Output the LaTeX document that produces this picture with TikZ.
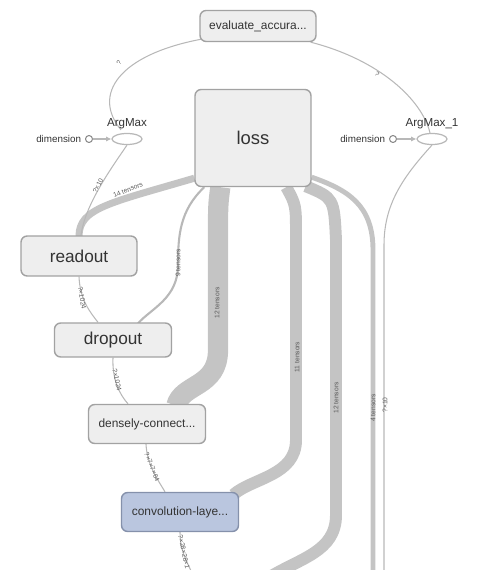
\documentclass[tikz,border=0pt]{standalone}
\usepackage{fontspec}
\setmainfont{Liberation Sans}
\usetikzlibrary{calc,arrows.meta,shapes.geometric,positioning}
\definecolor{boxfill}{HTML}{EEEEEE}
\definecolor{boxline}{HTML}{A2A2A2}
\definecolor{convfill}{HTML}{BAC6DF}
\definecolor{convline}{HTML}{8591AB}
\definecolor{flow}{HTML}{C4C4C4}
\definecolor{wire}{HTML}{B8B8B8}
\definecolor{ink}{HTML}{333333}
\definecolor{faint}{HTML}{5A5A5A}
\pgfdeclarelayer{background}
\pgfsetlayers{background,main}
\tikzset{
  opbox/.style={draw=boxline, fill=boxfill, rounded corners=3.5pt, line width=0.8pt, text=ink, inner sep=0pt},
  convbox/.style={opbox, draw=convline, fill=convfill},
  big/.style={font=\fontsize{9.8}{11}\selectfont},
  small/.style={font=\fontsize{6.8}{8}\selectfont},
  opnode/.style={ellipse, draw=wire, fill=white, line width=0.7pt, minimum width=0.6cm, minimum height=0.22cm, inner sep=0pt},
  cst/.style={circle, draw=faint!70, fill=white, line width=0.6pt, minimum size=0.14cm, inner sep=0pt},
  oplab/.style={text=ink, font=\fontsize{6.6}{7}\selectfont, inner sep=0pt},
  cstlab/.style={text=ink, font=\fontsize{5.6}{6}\selectfont, inner sep=0pt},
  wireline/.style={draw=wire, line width=0.6pt},
  band/.style={draw=flow, line cap=butt},
  elab/.style={text=faint, font=\fontsize{3.8}{4}\selectfont, inner sep=0pt}
}
\begin{document}
\begin{tikzpicture}[x=0.02cm, y=-0.02cm, line cap=round, line join=round]
  \useasboundingbox (0,0) rectangle (500,570);
  % ops
  \node[opbox, small, minimum width=2.32cm, minimum height=0.62cm] (evalacc) at (258,26) {evaluate\_accura...};
  \node[opbox, font=\fontsize{10.5}{12}\selectfont, minimum width=2.32cm, minimum height=1.94cm] (loss) at (253,138) {loss};
  \node[opnode] (argmax) at (127,139) {};
  \node[opnode] (argmaxb) at (432,139) {};
  \node[opbox, big, minimum width=2.32cm, minimum height=0.8cm] (readout) at (79,256) {readout};
  \node[opbox, big, minimum width=2.34cm, minimum height=0.68cm] (dropout) at (113,340) {dropout};
  \node[opbox, small, minimum width=2.34cm, minimum height=0.78cm] (dense) at (147,424) {densely-connect...};
  \node[convbox, small, minimum width=2.34cm, minimum height=0.78cm] (conv) at (180,512) {convolution-laye...};
  \node[cst] (dima) at (89,139) {};
  \node[cst] (dimb) at (393,139) {};
  \node[oplab, above=2.2pt of argmax] (argmaxlab) {ArgMax};
  \node[oplab, above=2.2pt of argmaxb] (argmaxblab) {ArgMax\_1};
  \node[cstlab, left=2pt of dima] (dimalab) {dimension};
  \node[cstlab, left=2pt of dimb] (dimblab) {dimension};
  \draw[wireline, -{Latex[length=3pt,width=3pt]}] (dima) -- (argmax);
  \draw[wireline, -{Latex[length=3pt,width=3pt]}] (dimb) -- (argmaxb);
  \begin{pgfonlayer}{background}
  % bands out of loss
  \draw[band, line width=4pt] ($(loss.south west)+(0,-9)$) .. controls (110,203) and (79,208) .. ($(readout.north)+(0,1)$);
  \draw[band, line width=11.5pt] ($(loss.south west)+(26,0)$) .. controls (218,205) .. (218,240) -- (218,350)
        .. controls (218,388) and (182,383) .. ($(dense.north east)+(-30,2)$);
  \draw[band, line width=6.8pt] ($(loss.south west)+(92,0)$) .. controls (296,205) .. (296,235) -- (296,440)
        .. controls (296,476) and (252,478) .. ($(conv.north east)+(-6,3)$);
  \draw[band, line width=6.8pt] ($(loss.south east)+(-6,-1)$) .. controls (334,198) .. (336,240) -- (336,515)
        .. controls (336,552) and (300,558) .. (268,578);
  \draw[band, line width=2.8pt] ($(loss.south east)+(0,-10)$) .. controls (348,190) and (373,205) .. (373,250) -- (373,575);
  % thin edges
  \draw[wireline, line width=1.2pt] ($(loss.south west)+(10,0)$) .. controls (180,210) and (178,235) .. (178,265)
        .. controls (178,298) and (152,308) .. ($(dropout.north)+(25,1)$);
  \draw[wireline] ($(evalacc.south west)+(2,-3)$) .. controls (118,55) and (92,95) .. ($(argmax.north)+(-6,-3)$);
  \draw[wireline] ($(evalacc.south east)+(-6,0)$) .. controls (380,60) and (422,100) .. ($(argmaxb.north)+(-2,0)$);
  \draw[wireline] (argmax.south) .. controls (110,170) and (85,205) .. ($(readout.north)+(2,0)$);
  \draw[wireline] (argmaxb.south) .. controls (402,178) and (384,205) .. (384,245) -- (384,575);
  \draw[wireline] (readout.south) .. controls (80,300) and (90,312) .. ($(dropout.north)+(-15,0)$);
  \draw[wireline] (dropout.south) .. controls (112,380) and (120,395) .. ($(dense.north)+(-19,0)$);
  \draw[wireline] ($(dense.south)+(-1,0)$) .. controls (147,465) and (158,480) .. ($(conv.north)+(-15,0)$);
  \draw[wireline] (conv.south) .. controls (180,550) and (186,560) .. (193,575);
  \end{pgfonlayer}
  % edge labels
  \node[elab, rotate=60] at (119,63) {?};
  \node[elab, rotate=-45] at (377,74) {?};
  \node[elab, rotate=62] at (98,186) {?×10};
  \node[elab, rotate=22] at (128,190) {14 tensors};
  \node[elab, rotate=90] at (178,263) {9 tensors};
  \node[elab, rotate=-80] at (82,298) {?×1024};
  \node[elab, rotate=90] at (217,303) {12 tensors};
  \node[elab, rotate=-78] at (117,380) {?×1024};
  \node[elab, rotate=90] at (297,357) {11 tensors};
  \node[elab, rotate=90] at (336,398) {12 tensors};
  \node[elab, rotate=90] at (373,408) {4 tensors};
  \node[elab, rotate=90] at (385,405) {?×10};
  \node[elab, rotate=-68] at (152,467) {?×7×7×64};
  \node[elab, rotate=-78] at (184,552) {?×28×28×1};
\end{tikzpicture}
\end{document}
